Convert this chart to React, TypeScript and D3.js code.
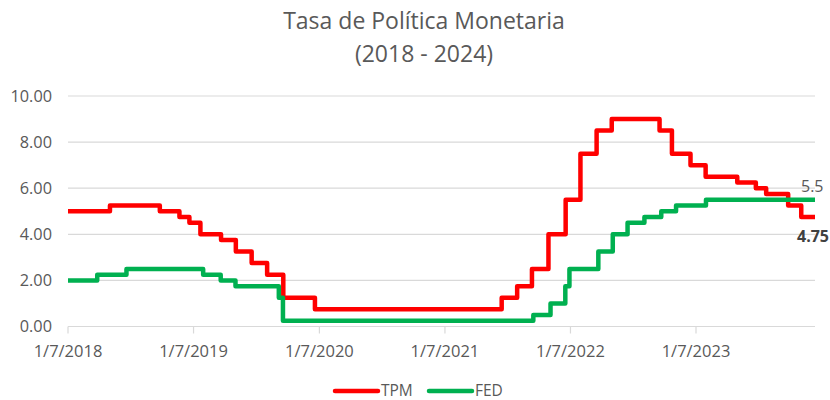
import React from "react";
import * as d3 from "d3";

// chart data
const tpmDates = [
  "2018-07-01", "2018-10-31", "2019-03-25", "2019-05-21", "2019-06-19", "2019-07-21",
  "2019-09-19", "2019-11-01", "2019-12-17", "2020-01-31", "2020-03-18", "2020-06-18",
  "2021-12-13", "2022-01-27", "2022-03-11", "2022-04-28", "2022-06-17", "2022-07-30",
  "2022-09-15", "2022-10-29", "2023-03-17", "2023-04-22", "2023-06-15", "2023-07-29",
  "2023-10-29", "2023-12-22", "2024-01-21", "2024-03-25", "2024-05-02",
];
const tpmValues = [
  5.0, 5.25, 5.0, 4.75, 4.5, 4.0,
  3.75, 3.25, 2.75, 2.25, 1.25, 0.75,
  1.25, 1.75, 2.5, 4.0, 5.5, 7.5,
  8.5, 9.0, 8.5, 7.5, 7.0, 6.5,
  6.25, 6.0, 5.75, 5.25, 4.75,
];
const fedDates = [
  "2018-07-01", "2018-09-24", "2018-12-18", "2019-07-29", "2019-09-18", "2019-10-31",
  "2020-03-05", "2020-03-17", "2022-03-15", "2022-05-04", "2022-06-16", "2022-06-28",
  "2022-09-20", "2022-11-01", "2022-12-14", "2023-02-01", "2023-03-22", "2023-05-04",
  "2023-07-30",
];
const fedValues = [
  2.0, 2.25, 2.5, 2.25, 2.0, 1.75,
  1.25, 0.25, 0.5, 1.0, 1.75, 2.5,
  3.25, 4.0, 4.5, 4.75, 5.0, 5.25,
  5.5,
];
const endDate = "2024-06-11";
const xTickLabels = ["1/7/2018", "1/7/2019", "1/7/2020", "1/7/2021", "1/7/2022", "1/7/2023"];
const yTicks = [0, 2, 4, 6, 8, 10];
const seriesNames = ["TPM", "FED"];
const seriesColors = ["#FF0000", "#00B050"];

const parseIso = d3.timeParse("%Y-%m-%d");
const parseTick = d3.timeParse("%d/%m/%Y");

const W = 830;
const H = 400;
const margin = { left: 68, right: 15, top: 96, bottom: 73.5 };
const font = "'Open Sans', sans-serif";
const textColor = "#595959";

type Pt = { date: Date; value: number };

function buildSeries(dates: string[], values: number[]): Pt[] {
  const pts = dates.map((d, i) => ({ date: parseIso(d) as Date, value: values[i] }));
  pts.push({ date: parseIso(endDate) as Date, value: values[values.length - 1] });
  return pts;
}

export default function App() {
  const x = d3
    .scaleTime()
    .domain([parseIso("2018-07-01") as Date, parseIso(endDate) as Date])
    .range([margin.left, W - margin.right]);
  const y = d3
    .scaleLinear()
    .domain([0, 10])
    .range([H - margin.bottom, margin.top]);

  const line = d3
    .line<Pt>()
    .x((d) => x(d.date))
    .y((d) => y(d.value))
    .curve(d3.curveStepAfter);

  const series = [buildSeries(tpmDates, tpmValues), buildSeries(fedDates, fedValues)];
  const y0 = y(0);

  return (
    <svg
      width={W}
      height={H}
      style={{ position: "absolute", left: 0, top: 0, background: "#fff" }}
      fontFamily={font}
    >
      <text x={424} y={29} textAnchor="middle" fontSize={23} fill={textColor}>
        Tasa de Política Monetaria
      </text>
      <text x={424} y={62} textAnchor="middle" fontSize={23} fill={textColor}>
        (2018 - 2024)
      </text>

      {/* gridlines and y labels */}
      {yTicks.map((t) => (
        <g key={t}>
          <line
            x1={margin.left}
            x2={W - margin.right}
            y1={y(t)}
            y2={y(t)}
            stroke="#D9D9D9"
            strokeWidth={1.2}
          />
          <text
            x={52}
            y={y(t)}
            dy="0.36em"
            textAnchor="end"
            fontSize={16.3}
            fill={textColor}
          >
            {d3.format(".2f")(t)}
          </text>
        </g>
      ))}

      {/* x ticks */}
      {xTickLabels.map((lbl) => {
        const xx = x(parseTick(lbl) as Date);
        return (
          <g key={lbl}>
            <line x1={xx} x2={xx} y1={y0} y2={y0 + 7} stroke="#D9D9D9" strokeWidth={1.2} />
            <text x={xx} y={357} textAnchor="middle" fontSize={16.5} fill={textColor}>
              {lbl}
            </text>
          </g>
        );
      })}

      {series.map((s, i) => (
        <path
          key={seriesNames[i]}
          d={line(s) || ""}
          fill="none"
          stroke={seriesColors[i]}
          strokeWidth={4.5}
          strokeLinejoin="round"
        />
      ))}

      {/* end labels */}
      <text x={801} y={192} fontSize={16} fill={textColor}>
        {fedValues[fedValues.length - 1]}
      </text>
      <text x={797} y={242} fontSize={16} fontWeight="bold" fill="#404040">
        {tpmValues[tpmValues.length - 1]}
      </text>

      {/* legend */}
      {seriesNames.map((name, i) => {
        const lx = i === 0 ? 335 : 429;
        return (
          <g key={name}>
            <line
              x1={lx}
              x2={lx + 43}
              y1={391}
              y2={391}
              stroke={seriesColors[i]}
              strokeWidth={4.5}
              strokeLinecap="round"
            />
            <text x={lx + 46} y={395.5} fontSize={15.5} fill={textColor}>
              {name}
            </text>
          </g>
        );
      })}
    </svg>
  );
}
